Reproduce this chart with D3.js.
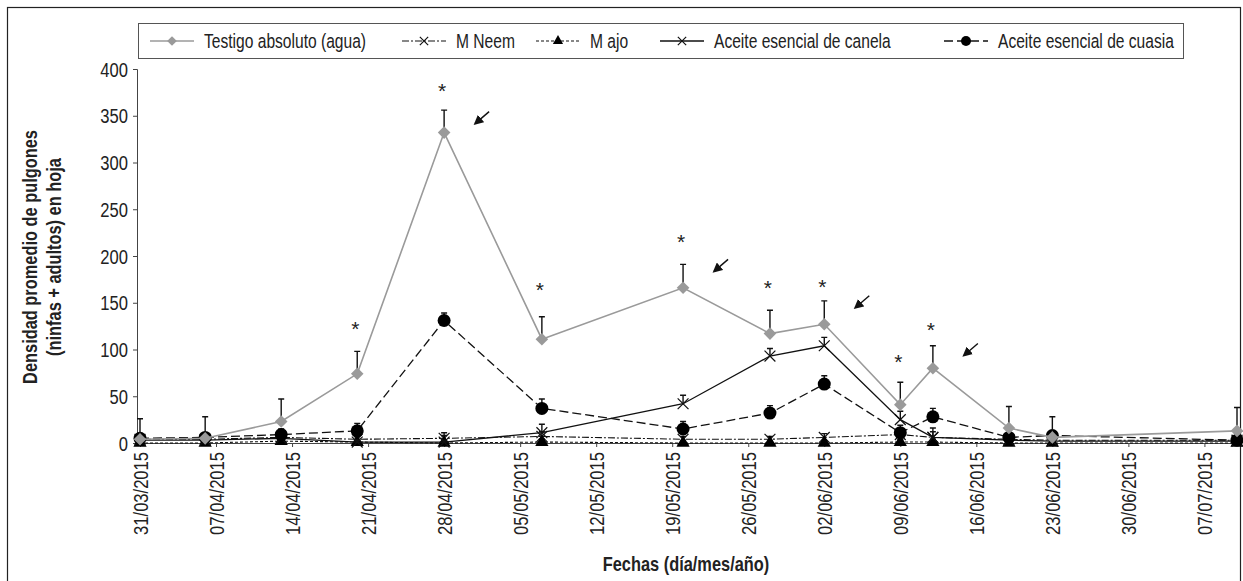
<!DOCTYPE html>
<html>
<head>
<meta charset="utf-8">
<script src="https://cdn.jsdelivr.net/npm/d3@7"></script>
<style>
  body { margin: 0; background: #fff; }
  svg { display: block; }
  text { font-family: "Liberation Sans", Arial, sans-serif; }
</style>
</head>
<body>
<svg id="chart" width="1243" height="581"></svg>
<script>
// Sampling dates (día/mes/año)
var fechas = ["31/03/2015", "06/04/2015", "13/04/2015", "20/04/2015", "28/04/2015", "07/05/2015", "20/05/2015",
	"28/05/2015", "02/06/2015", "09/06/2015", "12/06/2015", "19/06/2015", "23/06/2015", "10/07/2015"];

// Axis labels
var tickFechas = ["31/03/2015", "07/04/2015", "14/04/2015", "21/04/2015", "28/04/2015", "05/05/2015", "12/05/2015",
	"19/05/2015", "26/05/2015", "02/06/2015", "09/06/2015", "16/06/2015", "23/06/2015", "30/06/2015", "07/07/2015"];
var tickY = [0, 50, 100, 150, 200, 250, 300, 350, 400];

// Series means and error (upper bar only)
var testigo    = [4, 5, 23, 74, 332, 111, 166, 117, 127, 41, 80, 16, 6, 13];
var testigoErr = [22, 23, 24, 24, 24, 24, 25, 25, 25, 24, 24, 23, 22, 25];
var neem       = [4, 4, 6, 4, 5, 7, 4, 4, 6, 9, 6, 4, 3, 3];
var neemErr    = [3, 3, 4, 3, 6, 5, 3, 3, 4, 5, 10, 2, 2, 2];
var ajo        = [0, 0, 2, 1, 0, 1, 0, 0, 0, 1, 1, 0, 0, 0];
var ajoErr     = [2, 2, 3, 2, 8, 3, 2, 2, 2, 3, 3, 2, 2, 2];
var canela     = [3, 3, 5, 1, 1, 11, 42, 93, 104, 25, 6, 3, 2, 2];
var canelaErr  = [3, 3, 4, 2, 2, 9, 9, 8, 9, 9, 6, 3, 2, 2];
var cuasia     = [5, 6, 9, 13, 131, 37, 15, 32, 63, 11, 28, 6, 8, 3];
var cuasiaErr  = [4, 4, 6, 8, 8, 10, 8, 8, 9, 8, 9, 3, 4, 3];

// Significance marks (*) : date index and height
var estrellaIdx = [3, 4, 5, 6, 7, 8, 9, 10];
var estrellaVal = [127, 382, 169, 220, 171, 172, 92, 126];
// Arrows: date index and height
var flechaIdx = [4, 6, 8, 10];
var flechaVal = [348, 190, 151, 100];

var parse = d3.timeParse("%d/%m/%Y");
var fmt = d3.timeFormat("%d/%m/%Y");
var SQ = 0.85; // horizontal squeeze, to imitate a condensed face

var svg = d3.select("#chart");

//Outer frame
svg.append("rect")
	.attr("x", 7.5).attr("y", 7.5)
	.attr("width", 1233).attr("height", 600)
	.attr("fill", "none").attr("stroke", "#222").attr("stroke-width", 1.2);

var x = d3.scaleTime()
	.domain([parse("31/03/2015"), parse("10/07/2015")])
	.range([140, 1237]);
var y = d3.scaleLinear()
	.domain([0, 400])
	.range([443, 69]);

//Axes
var yAxis = svg.append("g")
	.attr("transform", "translate(137,0)")
	.call(d3.axisLeft(y).tickValues(tickY).tickSize(4).tickPadding(6));
yAxis.selectAll("text")
	.attr("font-size", 19.5).attr("fill", "#222")
	.attr("x", null).attr("dy", "0.36em")
	.attr("transform", "translate(-9,0) scale(" + SQ + ",1)");

var xAxis = svg.append("g")
	.attr("transform", "translate(0,443)")
	.call(d3.axisBottom(x).tickValues(tickFechas.map(parse)).tickSize(4).tickFormat(fmt));
xAxis.select(".domain").attr("d", "M137,0.5H1238");
xAxis.selectAll("text")
	.attr("font-size", 19.5)
	.attr("fill", "#222")
	.attr("text-anchor", "end")
	.attr("x", 0).attr("y", 0).attr("dy", "0.36em")
	.attr("transform", "translate(0,9) rotate(-90) scale(" + SQ + ",1)");
svg.selectAll(".domain, .tick line").attr("stroke", "#444");

//Axis titles
function titulo(tx, ty, rot, str) {
	svg.append("text")
		.attr("transform", "translate(" + tx + "," + ty + ") rotate(" + rot + ") scale(0.84,1)")
		.attr("text-anchor", "middle")
		.attr("font-size", 19.5).attr("font-weight", "bold").attr("fill", "#222")
		.text(str);
}
titulo(37, 257, -90, "Densidad promedio de pulgones");
titulo(61, 257, -90, "(ninfas + adultos) en hoja");
titulo(686, 571, 0, "Fechas (día/mes/año)");

var series = [
	{name: "Testigo absoluto (agua)", values: testigo, err: testigoErr, color: "#9a9a9a", dash: null, width: 1.6, marker: "diamond"},
	{name: "M Neem", values: neem, err: neemErr, color: "#111", dash: "7,2,2,2", width: 1.1, marker: "x"},
	{name: "M ajo", values: ajo, err: ajoErr, color: "#111", dash: "3,2", width: 1.1, marker: "triangle"},
	{name: "Aceite esencial de canela", values: canela, err: canelaErr, color: "#111", dash: null, width: 1.3, marker: "x"},
	{name: "Aceite esencial de cuasia", values: cuasia, err: cuasiaErr, color: "#111", dash: "9,4", width: 1.3, marker: "circle"}
];

var dates = fechas.map(parse);

function drawMarker(g, type, color, size) {
	if (type == "diamond") {
		g.append("path").attr("d", d3.symbol(d3.symbolDiamond2, size * size * 0.6)).attr("fill", color);
	} else if (type == "triangle") {
		g.append("path").attr("d", d3.symbol(d3.symbolTriangle, size * size * 0.45)).attr("fill", "#000");
	} else if (type == "circle") {
		g.append("circle").attr("r", size / 2).attr("fill", "#000");
	} else {
		var h = size / 2.4;
		g.append("path").attr("d", "M" + (-h) + "," + (-h) + "L" + h + "," + h + "M" + (-h) + "," + h + "L" + h + "," + (-h))
			.attr("stroke", "#111").attr("stroke-width", 1.2).attr("fill", "none");
	}
}

var line = d3.line().x((d, i) => x(dates[i])).y(d => y(d));

//Draw back to front: small treatments first
var order = [1, 2, 3, 4, 0];
order.forEach(function (k) {
	var s = series[k];
	var g = svg.append("g").attr("class", "serie");
	g.append("path")
		.datum(s.values)
		.attr("d", line)
		.attr("fill", "none")
		.attr("stroke", s.color)
		.attr("stroke-width", s.width)
		.attr("stroke-dasharray", s.dash);
	//error bars
	s.values.forEach(function (v, i) {
		var cx = x(dates[i]), top = y(v + s.err[i]);
		g.append("path")
			.attr("d", "M" + cx + "," + y(v) + "V" + top + "M" + (cx - 3) + "," + top + "H" + (cx + 3))
			.attr("stroke", "#111").attr("stroke-width", 1.4).attr("fill", "none");
	});
	s.values.forEach(function (v, i) {
		var m = g.append("g").attr("transform", "translate(" + x(dates[i]) + "," + y(v) + ")");
		drawMarker(m, s.marker, s.color, 13);
	});
});

//Stars
estrellaIdx.forEach(function (idx, j) {
	svg.append("text")
		.attr("x", x(dates[idx]) - 2).attr("y", y(estrellaVal[j]) + 12)
		.attr("text-anchor", "middle")
		.attr("font-size", 21).attr("fill", "#222")
		.text("*");
});

//Arrows
svg.append("defs").append("marker")
	.attr("id", "head").attr("viewBox", "0 0 10 10")
	.attr("refX", 8).attr("refY", 5)
	.attr("markerWidth", 7).attr("markerHeight", 7)
	.attr("orient", "auto")
	.append("path").attr("d", "M0,0L10,5L0,10z").attr("fill", "#111");
flechaIdx.forEach(function (idx, j) {
	var cx = x(dates[idx]) + 38, cy = y(flechaVal[j]);
	svg.append("path")
		.attr("d", "M" + (cx + 7) + "," + (cy - 6) + "L" + (cx - 7) + "," + (cy + 6))
		.attr("stroke", "#111").attr("stroke-width", 1.4)
		.attr("marker-end", "url(#head)");
});

//Legend
var legend = svg.append("g");
legend.append("rect")
	.attr("x", 138.5).attr("y", 23.5).attr("width", 1045).attr("height", 35)
	.attr("fill", "#fff").attr("stroke", "#555");
var legendX = [150, 402, 536, 660, 944];
series.forEach(function (s, k) {
	var lx = legendX[k];
	var item = legend.append("g").attr("transform", "translate(" + lx + ",41)");
	item.append("line")
		.attr("x1", 0).attr("x2", 44)
		.attr("stroke", s.color).attr("stroke-width", s.width)
		.attr("stroke-dasharray", s.dash);
	var m = item.append("g").attr("transform", "translate(22,0)");
	drawMarker(m, s.marker, s.color, 10);
	item.append("text")
		.attr("transform", "translate(54,0) scale(0.8,1)")
		.attr("dy", "0.36em")
		.attr("font-size", 19.5).attr("fill", "#222")
		.text(s.name);
});
</script>
</body>
</html>
